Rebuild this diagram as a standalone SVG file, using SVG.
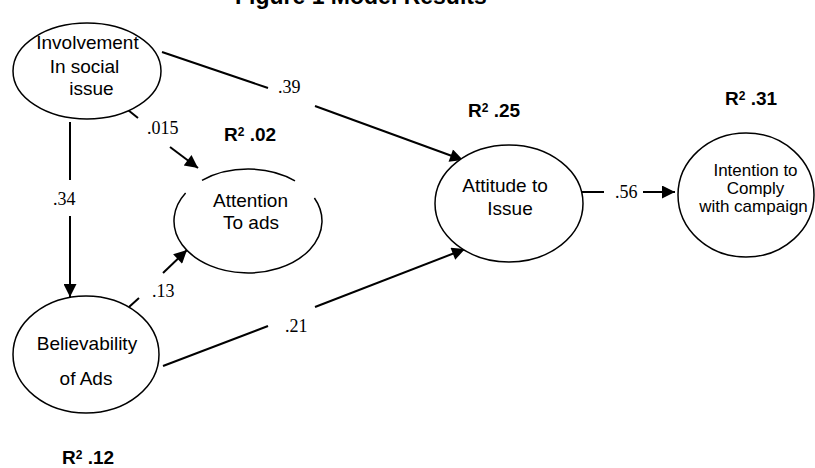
<svg xmlns="http://www.w3.org/2000/svg" width="815" height="468" viewBox="0 0 815 468">
<defs>
<style>
.node{fill:#fff;stroke:#000;stroke-width:1.5}
.lbl{font-family:"Liberation Sans",Arial,sans-serif;font-size:19px;fill:#000;text-anchor:middle}
.lbl17{font-family:"Liberation Sans",Arial,sans-serif;font-size:17px;fill:#000;text-anchor:middle}
.r2{font-family:"Liberation Sans",Arial,sans-serif;font-size:19px;font-weight:bold;fill:#000}
.sup{font-size:12px}
.coef{font-family:"Liberation Serif","Times New Roman",serif;font-size:18px;fill:#000}
.edge{fill:none;stroke:#000;stroke-width:2}
.title{font-family:"Liberation Sans",Arial,sans-serif;font-size:23px;font-weight:bold;fill:#000}
</style>
<marker id="arr" viewBox="0 0 10 10" refX="10" refY="5" markerWidth="15" markerHeight="13" markerUnits="userSpaceOnUse" orient="auto">
<path d="M0,0 L10,5 L0,10 z" fill="#000"/>
</marker>
</defs>
<rect width="815" height="468" fill="#fff"/>
<text class="title" x="235" y="4">Figure 1 Model Results</text>

<g id="connectors">
<path class="edge" d="M162,52 L268,88"/>
<path class="edge" d="M315,106 L463,160" marker-end="url(#arr)"/>
<path class="edge" d="M128,110 L138,118"/>
<path class="edge" d="M170,147 L198,168" marker-end="url(#arr)"/>
<path class="edge" d="M70,122 L70,180"/>
<path class="edge" d="M70,216 L70,297" marker-end="url(#arr)"/>
<path class="edge" d="M129,307 L139,298"/>
<path class="edge" d="M163,273 L187,250" marker-end="url(#arr)"/>
<path class="edge" d="M163,366 L268,326"/>
<path class="edge" d="M315,307 L465,249" marker-end="url(#arr)"/>
<path class="edge" d="M582,192 L604,192"/>
<path class="edge" d="M643,192 L675,192" marker-end="url(#arr)"/>
<text class="coef" x="278" y="93">.39</text>
<text class="coef" x="147" y="134">.015</text>
<text class="coef" x="53" y="205">.34</text>
<text class="coef" x="152" y="297">.13</text>
<text class="coef" x="285" y="332">.21</text>
<text class="coef" x="615" y="198">.56</text>
</g>

<g id="involvement">
<ellipse class="node" cx="87" cy="71" rx="74" ry="48"/>
<text class="lbl" x="87.5" y="49">Involvement</text>
<text class="lbl" x="84.5" y="73">In social</text>
<text class="lbl" x="91.5" y="95">issue</text>
</g>

<g id="attention">
<path class="node" d="M202,180.3 A74,52 0 0 1 295,180.8" fill="none"/>
<path class="node" d="M185.6,193 A74,52 0 1 0 314.4,198" fill="none"/>
<text class="lbl" x="250.5" y="207">Attention</text>
<text class="lbl" x="251" y="229">To ads</text>
<text class="r2" x="224" y="141">R<tspan class="sup" dy="-5">2</tspan><tspan dy="5"> .02</tspan></text>
</g>

<g id="believability">
<ellipse class="node" cx="86" cy="354.5" rx="73" ry="58.5"/>
<text class="lbl" x="87" y="350">Believability</text>
<text class="lbl" x="86" y="385">of Ads</text>
<text class="r2" x="62" y="464">R<tspan class="sup" dy="-5">2</tspan><tspan dy="5"> .12</tspan></text>
</g>

<g id="attitude">
<ellipse class="node" cx="509" cy="203.5" rx="74" ry="58.5"/>
<text class="lbl" x="505" y="192">Attitude to</text>
<text class="lbl" x="510" y="215">Issue</text>
<text class="r2" x="468" y="117">R<tspan class="sup" dy="-5">2</tspan><tspan dy="5"> .25</tspan></text>
</g>

<g id="intention">
<ellipse class="node" cx="746" cy="195" rx="68" ry="62"/>
<text class="lbl17" x="755.5" y="176">Intention to</text>
<text class="lbl17" x="755.5" y="194">Comply</text>
<text class="lbl17" x="753.5" y="212">with campaign</text>
<text class="r2" x="725" y="105">R<tspan class="sup" dy="-5">2</tspan><tspan dy="5"> .31</tspan></text>
</g>
</svg>
